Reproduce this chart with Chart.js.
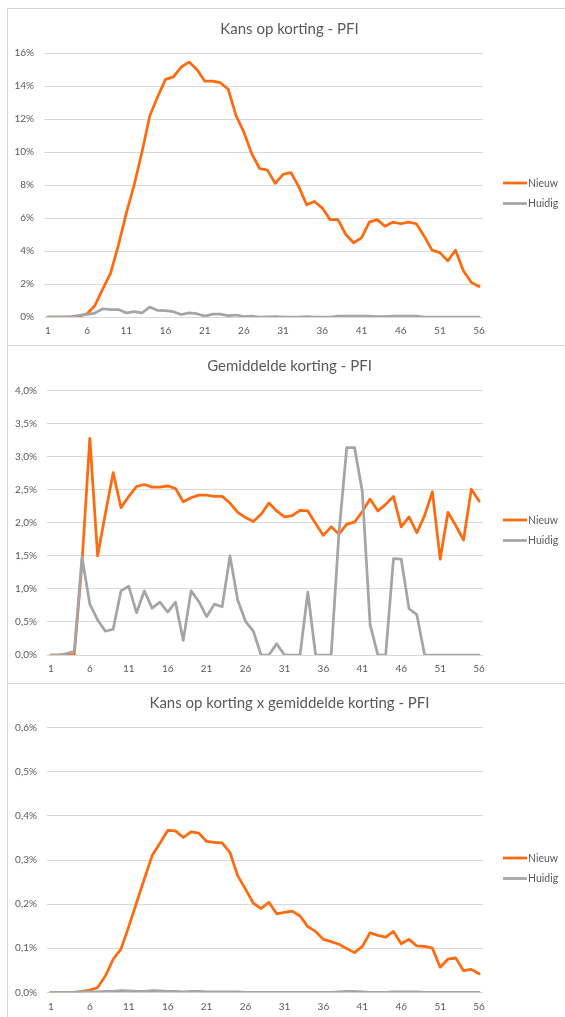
<!DOCTYPE html>
<html>
<head>
<meta charset="utf-8">
<script src="https://cdn.jsdelivr.net/npm/chart.js@4.4.1/dist/chart.umd.min.js"></script>
<style>
  html, body { margin: 0; padding: 0; background: #ffffff; overflow: hidden; }
  body { width: 565px; height: 1017px; position: relative; }
  .frame { position: absolute; left: 7px; width: 620px; border-top: 1px solid #d9d9d9; border-left: 1px solid #d9d9d9; box-sizing: border-box; }
  .box { position: absolute; left: 7px; width: 565px; }
  .box canvas { display: block; }
</style>
</head>
<body>
<div class="frame" style="top:8px;height:337px"></div>
<div class="frame" style="top:345px;height:338px"></div>
<div class="frame" style="top:683px;height:340px"></div>

<div class="box" style="top:8px;height:337px"><canvas id="c1"></canvas></div>
<div class="box" style="top:345px;height:338px"><canvas id="c2"></canvas></div>
<div class="box" style="top:683px;height:334px"><canvas id="c3"></canvas></div>

<script>
// Weeks 1..56 on the horizontal axis
const weeks = Array.from({ length: 56 }, (_, i) => String(i + 1));

// Kans op korting (%)
const kansNieuw = [0, 0, 0, 0, 0.05, 0.2, 0.7, 1.7, 2.66, 4.37,
  6.3, 8.0, 10.0, 12.2, 13.35, 14.4, 14.55, 15.15, 15.45, 15.0,
  14.3, 14.3, 14.2, 13.8, 12.2, 11.2, 9.9, 9.0, 8.9, 8.1,
  8.65, 8.75, 7.9, 6.8, 7.0, 6.6, 5.9, 5.9, 5.0, 4.5,
  4.8, 5.75, 5.9, 5.5, 5.75, 5.65, 5.75, 5.65, 4.9, 4.05,
  3.9, 3.4, 4.05, 2.8, 2.1, 1.85];
const kansHuidig = [0, 0, 0, 0.03, 0.1, 0.16, 0.24, 0.5, 0.45, 0.45,
  0.25, 0.33, 0.25, 0.6, 0.4, 0.38, 0.32, 0.15, 0.25, 0.2,
  0.05, 0.17, 0.17, 0.08, 0.12, 0.03, 0.06, 0, 0.01, 0.03,
  0, 0, 0, 0.03, 0, 0, 0, 0.05, 0.05, 0.05,
  0.05, 0.05, 0.02, 0.02, 0.05, 0.05, 0.05, 0.05, 0, 0,
  0, 0, 0, 0, 0, 0];

// Gemiddelde korting (%)
const kortingNieuw = [0, 0, 0, 0, 1.4, 3.28, 1.5, 2.14, 2.76, 2.23,
  2.40, 2.55, 2.58, 2.54, 2.54, 2.56, 2.52, 2.32, 2.38, 2.42,
  2.42, 2.40, 2.40, 2.30, 2.16, 2.08, 2.02, 2.13, 2.30, 2.18,
  2.09, 2.11, 2.19, 2.18, 1.99, 1.81, 1.94, 1.83, 1.98, 2.01,
  2.17, 2.36, 2.18, 2.28, 2.40, 1.94, 2.09, 1.85, 2.11, 2.47,
  1.45, 2.16, 1.96, 1.74, 2.51, 2.33];
const kortingHuidig = [0, 0, 0.02, 0.05, 1.48, 0.77, 0.53, 0.36, 0.39, 0.97,
  1.04, 0.64, 0.97, 0.71, 0.80, 0.65, 0.80, 0.22, 0.97, 0.81,
  0.58, 0.77, 0.73, 1.50, 0.83, 0.51, 0.36, 0, 0, 0.17,
  0, 0, 0, 0.95, 0, 0, 0, 1.85, 3.14, 3.14,
  2.47, 0.46, 0, 0, 1.46, 1.45, 0.70, 0.61, 0, 0,
  0, 0, 0, 0, 0, 0];

// Kans op korting x gemiddelde korting (%)
const combiNieuw = [0, 0, 0, 0, 0.002, 0.005, 0.011, 0.037, 0.075, 0.098,
  0.149, 0.203, 0.257, 0.310, 0.338, 0.367, 0.366, 0.351, 0.364, 0.361,
  0.342, 0.340, 0.339, 0.317, 0.264, 0.234, 0.202, 0.190, 0.204, 0.178,
  0.181, 0.184, 0.173, 0.149, 0.138, 0.120, 0.115, 0.109, 0.099, 0.090,
  0.104, 0.135, 0.129, 0.125, 0.138, 0.110, 0.120, 0.105, 0.104, 0.100,
  0.057, 0.075, 0.078, 0.049, 0.052, 0.042];
const combiHuidig = [0, 0, 0, 0, 0.001, 0.001, 0.001, 0.002, 0.002, 0.004,
  0.003, 0.002, 0.002, 0.004, 0.003, 0.002, 0.002, 0.001, 0.002, 0.002,
  0.001, 0.001, 0.001, 0.001, 0.001, 0, 0, 0, 0, 0,
  0, 0, 0, 0, 0, 0, 0, 0.001, 0.002, 0.002,
  0.001, 0, 0, 0, 0.001, 0.001, 0.001, 0.001, 0, 0,
  0, 0, 0, 0, 0, 0];

const seriesNames = ['Nieuw', 'Huidig'];
const ORANGE = '#ff6a0f';
const GREY = '#a5a5a5';
const TEXT = '#595959';
const FONT = "Lato, 'Open Sans', sans-serif";

// Legend drawn to the right of the plot: short line swatch + label
const sideLegend = {
  id: 'sideLegend',
  afterDraw(chart, args, opts) {
    const ctx = chart.ctx;
    ctx.save();
    chart.data.datasets.forEach((ds, i) => {
      const y = opts.y[i];
      ctx.strokeStyle = ds.borderColor;
      ctx.lineWidth = 2.75;
      ctx.beginPath();
      ctx.moveTo(opts.x, y);
      ctx.lineTo(opts.x + 24, y);
      ctx.stroke();
      ctx.fillStyle = TEXT;
      ctx.font = "10.5px " + FONT;
      ctx.textBaseline = 'middle';
      ctx.textAlign = 'left';
      ctx.fillText(ds.label, opts.x + 25, y + 0.5);
    });
    ctx.restore();
  }
};

function makeChart(id, cfg) {
  const ds = [
    { label: seriesNames[0], data: cfg.nieuw, borderColor: ORANGE, backgroundColor: ORANGE, order: 2 },
    { label: seriesNames[1], data: cfg.huidig, borderColor: GREY, backgroundColor: GREY, order: 1 }
  ];
  ds.forEach(d => { d.borderWidth = 2.75; d.pointRadius = 0; d.tension = 0; d.borderJoinStyle = 'round'; d.borderCapStyle = 'round'; });

  return new Chart(document.getElementById(id), {
    type: 'line',
    data: { labels: weeks, datasets: ds },
    plugins: [sideLegend],
    options: {
      responsive: true,
      maintainAspectRatio: false,
      animation: false,
      events: [],
      layout: { padding: 0 },
      plugins: {
        legend: { display: false },
        tooltip: { enabled: false },
        title: {
          display: true,
          text: cfg.title,
          color: TEXT,
          font: { family: FONT, size: 15, weight: 'normal', lineHeight: 1.2 },
          padding: { top: cfg.titleTop, bottom: cfg.titleBottom }
        },
        sideLegend: { x: 496, y: [175, 195.5] }
      },
      scales: {
        x: {
          offset: true,
          grid: { display: false, drawTicks: false },
          border: { display: false },
          ticks: {
            autoSkip: false,
            maxRotation: 0,
            padding: 8,
            color: TEXT,
            font: { family: FONT, size: 10 },
            callback: (v, i) => (i % 5 === 0 ? weeks[i] : '')
          },
          afterFit: s => { s.height = cfg.xHeight; }
        },
        y: {
          min: 0,
          max: cfg.max,
          grid: { color: '#d9d9d9', lineWidth: 1, drawTicks: false },
          border: { display: false },
          ticks: {
            stepSize: cfg.step,
            padding: 10,
            color: TEXT,
            font: { family: FONT, size: 10 },
            callback: cfg.fmt
          },
          afterFit: s => { s.width = cfg.yWidth; }
        },
        // empty right-hand band that keeps room for the legend
        legendBand: {
          type: 'linear',
          position: 'right',
          display: true,
          grid: { display: false, drawTicks: false },
          border: { display: false },
          ticks: { display: false },
          afterFit: s => { s.width = cfg.padRight; }
        }
      }
    }
  });
}

const pctInt = v => Math.round(v) + '%';
const pctComma = v => v.toFixed(1).replace('.', ',') + '%';

makeChart('c1', {
  title: 'Kans op korting - PFI',
  nieuw: kansNieuw, huidig: kansHuidig,
  max: 16, step: 2, fmt: pctInt,
  yWidth: 37, padRight: 89, xHeight: 28,
  titleTop: 12, titleBottom: 15
});

makeChart('c2', {
  title: 'Gemiddelde korting - PFI',
  nieuw: kortingNieuw, huidig: kortingHuidig,
  max: 4, step: 0.5, fmt: pctComma,
  yWidth: 40, padRight: 89, xHeight: 28,
  titleTop: 12, titleBottom: 15.7
});

makeChart('c3', {
  title: 'Kans op korting x gemiddelde korting - PFI',
  nieuw: combiNieuw, huidig: combiHuidig,
  max: 0.6, step: 0.1, fmt: pctComma,
  yWidth: 40, padRight: 89, xHeight: 24.7,
  titleTop: 11, titleBottom: 15.7
});
</script>
</body>
</html>
